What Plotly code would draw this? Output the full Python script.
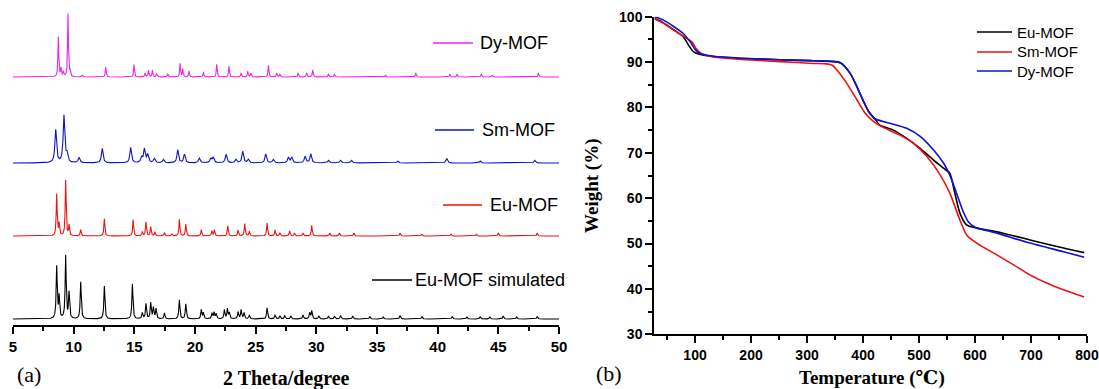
import numpy as np
import plotly.graph_objects as go

W, H = 1099, 389

# ---------------- (a) XRD : peak positions (2θ) and intensities (a.u.) ----------------
sim_pos = [8.6, 8.8, 9.34, 9.62, 10.58, 12.53, 14.84, 15.66, 15.96, 16.35, 16.57, 16.79, 17.48,
           18.71, 19.24, 20.52, 20.69, 21.4, 21.57, 21.74, 22.42, 22.67, 22.83, 23.55, 23.8, 24.04,
           24.48, 25.94, 26.6, 27.0, 27.4, 27.9, 28.9, 29.45, 29.62, 30.2, 31.0, 31.5, 32.0, 33.0,
           34.4, 35.5, 36.9, 38.7, 41.2, 42.4, 43.5, 44.3, 45.4, 46.5, 48.2]
sim_int = [52, 22, 63, 26, 37, 33, 35, 6, 15, 16, 11, 10, 6,
           19, 15, 9, 6, 5.5, 6.5, 5, 9, 10, 6, 7, 9, 6,
           4, 11, 4, 3, 3.5, 3, 4, 6, 8, 3, 3, 3, 3.5, 3,
           2.5, 2, 3.5, 2.5, 2.5, 2, 2.5, 2, 3, 2, 2.5]

eu_pos = [8.6, 8.8, 9.34, 9.62, 10.58, 12.53, 14.9, 15.66, 15.96, 16.35, 16.7, 17.48, 18.1,
          18.71, 19.24, 20.52, 21.4, 21.6, 22.7, 23.55, 24.1, 24.48, 25.94, 26.6, 27.0, 27.8,
          28.2, 28.9, 29.62, 31.1, 31.9, 33.1, 36.9, 38.7, 41.1, 43.2, 45.0, 48.2]
eu_int = [41.7, 12, 55.7, 10.7, 6.3, 17.3, 16.3, 4, 14, 9, 4, 3.3, 2,
          16.7, 11.7, 6.3, 5, 6, 10, 6, 12.3, 4.7, 13, 6, 3, 5,
          3, 3, 10.7, 3, 3, 3, 3, 2, 2, 2, 3, 3]

sm_pos = [8.52, 9.2, 9.45, 10.44, 12.36, 14.7, 15.6, 15.83, 16.1, 16.65, 17.4, 18.58, 19.13,
          20.36, 21.3, 21.5, 22.56, 23.38, 23.93, 24.4, 25.83, 26.46, 27.7, 27.97, 29.07, 29.54,
          31.0, 32.0, 32.9, 36.7, 40.75, 43.5, 48.0]
sm_int = [33, 47, 8, 5.5, 14.5, 15.5, 5.5, 13.5, 8, 4.5, 3.5, 13, 8.5,
          4.8, 4.5, 5.5, 8.5, 3.5, 11.5, 3.5, 9, 3.5, 5.5, 5.5, 6.5, 9,
          2.7, 2.7, 2.7, 2, 4.5, 2, 2.7]

dy_pos = [8.74, 8.96, 9.15, 9.53, 9.7, 10.72, 12.64, 14.97, 15.88, 16.16, 16.49, 16.84, 17.75,
          18.77, 18.99, 19.5, 20.69, 21.79, 22.8, 23.8, 24.35, 24.6, 26.05, 26.74, 27.0, 28.5,
          29.2, 29.7, 31.0, 31.5, 35.7, 38.2, 41.0, 41.6, 43.6, 44.5, 48.3]
dy_int = [40, 8, 5, 63, 5, 2, 10, 12.3, 4, 6.7, 6.7, 3.3, 3.3,
          13.3, 8, 5.7, 5, 12.7, 11, 4, 5.7, 4, 11.7, 4, 3, 4,
          4, 7, 3, 3, 2, 4, 3, 3, 3, 2, 4]

xrd_names = ["Eu-MOF simulated", "Eu-MOF", "Sm-MOF", "Dy-MOF"]
xrd_offset = [6, 89, 162, 248]          # vertical stacking offsets (a.u.)
xrd_colors = ["#000000", "#ee1111", "#1010d0", "#ee22ee"]
xrd_ticks = [5, 10, 15, 20, 25, 30, 35, 40, 45, 50]

# ---------------- (b) TGA ----------------
temp_eu = [28, 43, 61, 79, 88, 97, 106, 130, 190, 250, 310, 360, 377, 389, 401, 410, 421, 430,
           454, 478, 502, 526, 544, 555, 564, 573, 585, 603, 639, 698, 758, 795]
wt_eu = [99.6, 98.7, 97.2, 95.6, 93.8, 92.3, 91.8, 91.3, 90.8, 90.5, 90.3, 89.8, 87.5, 84.6, 81.3,
         79.1, 77.5, 76.1, 75.0, 73.2, 71.0, 68.4, 66.6, 65.5, 61.1, 56.7, 54.1, 53.4, 52.6, 50.8,
         49.0, 48.0]
temp_sm = [28, 43, 61, 79, 94, 103, 112, 133, 192, 252, 311, 335, 345, 353, 371, 389, 404, 419,
           436, 466, 490, 514, 538, 555, 573, 585, 603, 639, 669, 698, 728, 758, 795]
wt_sm = [99.5, 98.6, 97.1, 95.7, 94.5, 92.8, 91.8, 91.1, 90.5, 90.1, 89.7, 89.6, 89.3, 88.3, 85.3,
         81.7, 78.7, 76.9, 75.6, 73.9, 72.1, 69.2, 65.1, 61.1, 55.2, 51.9, 50.1, 47.5, 45.3, 43.1,
         41.3, 39.8, 38.2]
temp_dy = [28, 43, 61, 79, 91, 100, 109, 133, 192, 252, 311, 359, 377, 389, 401, 410, 421, 448,
           478, 502, 526, 544, 555, 567, 579, 588, 600, 639, 698, 758, 795]
wt_dy = [100, 99.3, 97.9, 96.3, 94.5, 92.8, 91.9, 91.3, 90.8, 90.5, 90.3, 89.9, 87.5, 84.6, 81.3,
         79.1, 77.5, 76.5, 75.4, 73.6, 70.6, 67.7, 65.1, 61.1, 57.0, 54.8, 53.6, 52.3, 50.1, 48.2,
         47.0]
tga_names = ["Eu-MOF", "Sm-MOF", "Dy-MOF"]
tga_colors = ["#000000", "#ee1111", "#1010d0"]
temp_ticks = [100, 200, 300, 400, 500, 600, 700, 800]
wt_ticks = [30, 40, 50, 60, 70, 80, 90, 100]


def profile(pos, inten, gamma, base):
    tt = np.arange(5, 50.0001, 0.01)
    y = np.full_like(tt, float(base))
    for p, h in zip(pos, inten):
        y += h / (1 + ((tt - p) / gamma) ** 2)
    return tt, y


def bold(vals):
    return ["<b>%d</b>" % v for v in vals]


fig = go.Figure()
xrd_sets = [(sim_pos, sim_int, 0.05), (eu_pos, eu_int, 0.045), (sm_pos, sm_int, 0.08), (dy_pos, dy_int, 0.04)]
for (pos, inten, g), name, off, col in zip(xrd_sets, xrd_names, xrd_offset, xrd_colors):
    tt, yy = profile(pos, inten, g, off)
    fig.add_trace(go.Scatter(x=tt, y=yy, mode="lines", name=name, showlegend=False,
                             line=dict(color=col, width=1.1), xaxis="x", yaxis="y"))

for tx, wy, name, col in zip([temp_eu, temp_sm, temp_dy], [wt_eu, wt_sm, wt_dy], tga_names, tga_colors):
    fig.add_trace(go.Scatter(x=tx, y=wy, mode="lines", name=name, showlegend=False,
                             line=dict(color=col, width=1.6, shape="spline", smoothing=0.6),
                             xaxis="x2", yaxis="y2"))

sans = "Liberation Sans, Arial"
tickfont = dict(family=sans, size=15, color="black")
common = dict(showline=True, linecolor="black", linewidth=1.5, ticks="outside", ticklen=7,
              tickwidth=1.5, tickcolor="black", showgrid=False, zeroline=False, automargin=False)

fig.update_layout(
    width=W, height=H, margin=dict(l=0, r=0, t=0, b=0),
    paper_bgcolor="white", plot_bgcolor="white", showlegend=False,
    xaxis=dict(domain=[13 / W, 559 / W], range=[5, 50], anchor="y",
               tickvals=xrd_ticks, ticktext=bold(xrd_ticks), tickfont=tickfont,
               minor=dict(dtick=2.5, ticks="outside", ticklen=4, tickwidth=1.5, tickcolor="black"),
               **common),
    yaxis=dict(domain=[64 / H, 381 / H], range=[0, 317], visible=False, anchor="x"),
    xaxis2=dict(domain=[654 / W, 1087 / W], range=[26.7, 800], anchor="y2",
                tickvals=temp_ticks, ticktext=bold(temp_ticks), tickfont=dict(tickfont, size=14),
                minor=dict(tick0=0, dtick=50, ticks="outside", ticklen=4, tickwidth=1.5, tickcolor="black"),
                **common),
    yaxis2=dict(domain=[(H - 334.3) / H, (H - 16.7) / H], range=[30, 100], anchor="x2",
                tickvals=wt_ticks, ticktext=bold(wt_ticks), tickfont=dict(tickfont, size=14),
                minor=dict(tick0=0, dtick=5, ticks="outside", ticklen=4, tickwidth=1.5, tickcolor="black"),
                **common),
)

serif = "Liberation Serif, Times New Roman, DejaVu Serif"
ann = [
    dict(text="<b>2 Theta/degree</b>", x=286 / W, y=1 - 378 / H, font=dict(family=serif, size=20)),
    dict(text="<b>Temperature (℃)</b>", x=872 / W, y=1 - 378 / H, font=dict(family=serif, size=19)),
    dict(text="<b>Weight (%)</b>", x=592 / W, y=1 - 186 / H, textangle=-90, font=dict(family=serif, size=19)),
    dict(text="(a)", x=29 / W, y=1 - 374 / H, font=dict(family=serif, size=22)),
    dict(text="(b)", x=609 / W, y=1 - 373 / H, font=dict(family=serif, size=22)),
]
for a in ann:
    a.update(xref="paper", yref="paper", showarrow=False, xanchor="center", yanchor="middle")
    a["font"]["color"] = "black"
    fig.add_annotation(**a)

# per-trace labels of panel (a)
label_spots = [(34.59, 37.89, 37.95, 45), (40.44, 43.65, 44.15, 120),
               (39.78, 43.0, 43.49, 195), (39.62, 42.91, 43.33, 282)]
for name, col, (x0, x1, xt, yl) in zip(xrd_names, xrd_colors, label_spots):
    fig.add_shape(type="line", xref="x", yref="y", x0=x0, x1=x1, y0=yl, y1=yl,
                  line=dict(color=col, width=1.3))
    fig.add_annotation(text=name, x=xt, y=yl, xref="x", yref="y", showarrow=False,
                       xanchor="left", yanchor="middle",
                       font=dict(family=sans, size=18, color="black"))

# key of panel (b)
key_rows = [32, 52, 71]
for name, col, ry in zip(tga_names, tga_colors, key_rows):
    fig.add_shape(type="line", xref="paper", yref="paper", x0=977 / W, x1=1012 / W,
                  y0=1 - ry / H, y1=1 - ry / H, line=dict(color=col, width=1.6))
    fig.add_annotation(text=name, x=1015 / W, y=1 - ry / H, xref="paper", yref="paper",
                       showarrow=False, xanchor="left", yanchor="middle",
                       font=dict(family=sans, size=15, color="black"))

fig.write_html("out.html")
